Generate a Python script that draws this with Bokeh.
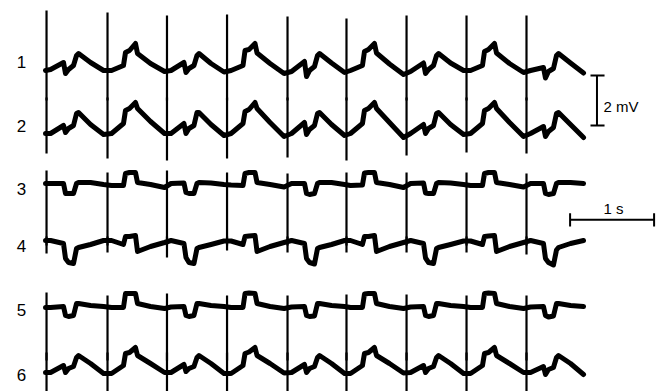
from bokeh.plotting import figure
from bokeh.models import Range1d
from bokeh.embed import file_html
from bokeh.resources import INLINE
from bokeh.core.properties import value

# ---- data (time in ms, amplitude in mV relative to each lead's baseline) ----
t_ms = [0,
        60, 214, 238, 274, 333, 369, 393, 536, 691,
        786, 928, 952, 1000, 1071, 1095, 1250, 1417,
        1494, 1648, 1672, 1708, 1767, 1803, 1827, 1970, 2125,
        2209, 2351, 2375, 2423, 2494, 2518, 2673, 2840,
        2929, 3083, 3107, 3143, 3202, 3238, 3262, 3405, 3560,
        3631, 3773, 3797, 3845, 3916, 3940, 4095, 4262,
        4346, 4500, 4524, 4560, 4619, 4655, 4679, 4822, 4977,
        5060, 5202, 5226, 5274, 5345, 5369, 5524, 5691,
        5774, 5928, 5952, 5988, 6047, 6083, 6107, 6250, 6405]

lead1 = [0.0,
         0.04, 0.32, -0.12, 0.04, 0.2, 0.6, 0.68, 0.32, 0.0,
         0.0, 0.2, 0.72, 0.8, 1.08, 0.68, 0.28, -0.04,
         0.0, 0.32, -0.08, 0.08, 0.2, 0.6, 0.68, 0.28, -0.06,
         0.0, 0.2, 0.8, 0.84, 1.08, 0.7, 0.28, -0.12,
         -0.04, 0.36, -0.24, 0.0, 0.16, 0.6, 0.68, 0.3, -0.08,
         0.0, 0.2, 0.76, 0.84, 1.08, 0.7, 0.26, -0.16,
         -0.04, 0.3, -0.12, 0.04, 0.2, 0.6, 0.68, 0.3, 0.0,
         0.0, 0.2, 0.76, 0.84, 1.08, 0.7, 0.28, -0.08,
         0.0, 0.12, -0.3, -0.04, 0.08, 0.6, 0.68, 0.3, -0.1]

lead2 = [0.0,
         0.0, 0.32, 0.04, 0.2, 0.32, 0.8, 0.84, 0.36, -0.04,
         0.0, 0.4, 0.92, 1.0, 1.24, 1.0, 0.48, 0.0,
         0.0, 0.4, 0.0, 0.2, 0.32, 0.84, 0.84, 0.36, -0.08,
         0.0, 0.4, 0.88, 0.96, 1.24, 1.0, 0.44, -0.12,
         0.0, 0.44, -0.04, 0.16, 0.32, 0.8, 0.84, 0.36, -0.08,
         0.0, 0.4, 0.92, 1.0, 1.24, 1.0, 0.44, -0.16,
         0.0, 0.36, 0.0, 0.2, 0.32, 0.8, 0.84, 0.36, -0.04,
         0.0, 0.4, 0.92, 1.0, 1.24, 1.0, 0.44, -0.12,
         0.0, 0.28, -0.12, 0.08, 0.24, 0.8, 0.84, 0.36, -0.16]

lead3 = [0.0,
         0.0, 0.0, -0.4, -0.4, -0.4, 0.0, 0.04, 0.04, -0.04,
         -0.08, -0.08, 0.4, 0.44, 0.44, 0.04, -0.04, -0.16,
         0.0, 0.02, -0.36, -0.4, -0.4, 0.0, 0.04, 0.02, -0.04,
         -0.06, -0.08, 0.4, 0.44, 0.44, 0.04, -0.04, -0.14,
         0.0, 0.0, -0.4, -0.44, -0.4, 0.0, 0.04, 0.04, -0.04,
         -0.08, -0.06, 0.42, 0.44, 0.44, 0.04, -0.04, -0.16,
         0.0, 0.02, -0.38, -0.4, -0.4, 0.0, 0.04, 0.02, -0.04,
         -0.08, -0.08, 0.4, 0.44, 0.44, 0.04, -0.04, -0.14,
         0.0, 0.0, -0.4, -0.44, -0.4, 0.0, 0.04, 0.04, 0.0]

lead4 = [0.08,
         0.08, -0.04, -0.64, -0.8, -0.84, -0.24, -0.2, -0.08, 0.08,
         0.08, -0.08, 0.24, 0.24, 0.28, -0.36, -0.16, 0.0,
         0.08, -0.04, -0.6, -0.8, -0.84, -0.24, -0.2, -0.08, 0.06,
         0.06, -0.08, 0.24, 0.26, 0.28, -0.36, -0.16, 0.0,
         0.08, -0.04, -0.64, -0.8, -0.86, -0.24, -0.2, -0.08, 0.08,
         0.08, -0.08, 0.24, 0.24, 0.28, -0.36, -0.16, 0.0,
         0.08, -0.04, -0.62, -0.8, -0.84, -0.24, -0.2, -0.08, 0.06,
         0.06, -0.08, 0.24, 0.26, 0.28, -0.36, -0.16, 0.0,
         0.08, -0.04, -0.64, -0.8, -0.9, -0.3, -0.2, -0.04, 0.08]

lead5 = [-0.08,
         -0.08, -0.04, -0.4, -0.44, -0.4, 0.08, 0.08, 0.0, -0.04,
         -0.08, -0.08, 0.48, 0.48, 0.48, 0.08, -0.04, -0.12,
         -0.06, -0.04, -0.4, -0.44, -0.4, 0.08, 0.08, 0.0, -0.04,
         -0.08, -0.08, 0.48, 0.5, 0.48, 0.08, -0.04, -0.12,
         -0.06, -0.04, -0.4, -0.44, -0.42, 0.08, 0.08, 0.0, -0.04,
         -0.08, -0.08, 0.46, 0.48, 0.48, 0.08, -0.04, -0.12,
         -0.06, -0.04, -0.4, -0.44, -0.4, 0.08, 0.08, 0.0, -0.04,
         -0.08, -0.08, 0.48, 0.5, 0.48, 0.08, -0.04, -0.12,
         -0.06, -0.04, -0.4, -0.46, -0.42, 0.08, 0.08, 0.0, -0.04]

lead6 = [-0.08,
         -0.08, 0.2, -0.08, 0.08, 0.16, 0.52, 0.6, 0.28, -0.12,
         -0.12, 0.2, 0.68, 0.72, 0.92, 0.6, 0.28, -0.08,
         -0.08, 0.24, -0.04, 0.08, 0.16, 0.52, 0.6, 0.28, -0.12,
         -0.12, 0.2, 0.68, 0.74, 0.92, 0.6, 0.28, -0.1,
         -0.08, 0.24, -0.08, 0.08, 0.16, 0.52, 0.6, 0.28, -0.12,
         -0.12, 0.2, 0.68, 0.72, 0.92, 0.6, 0.28, -0.1,
         -0.08, 0.2, -0.08, 0.08, 0.16, 0.52, 0.6, 0.28, -0.12,
         -0.12, 0.2, 0.68, 0.72, 0.92, 0.6, 0.28, -0.08,
         -0.08, 0.16, -0.16, 0.04, 0.12, 0.52, 0.6, 0.28, -0.16]

spike_ms = [12, 738, 1446, 2161, 2881, 3583, 4298, 5012, 5726]

spike_top = [
    [2.4, 2.32, 2.2, 2.24, 2.16, 2.08, 2.2, 2.2, 2.2],
    [1.44, 1.44, 1.44, 1.44, 1.44, 1.44, 1.44, 1.44, 1.44],
    [0.52, 0.44, 0.52, 0.44, 0.4, 0.44, 0.44, 0.44, 0.4],
    [0.24, 0.24, 0.24, 0.24, 0.24, 0.24, 0.24, 0.24, 0.24],
    [0.52, 0.4, 0.48, 0.4, 0.4, 0.44, 0.44, 0.4, 0.4],
    [0.72, 0.72, 0.72, 0.72, 0.72, 0.72, 0.72, 0.72, 0.72],
]
spike_bottom = [
    [-1.2, -1.2, -1.2, -1.2, -1.2, -1.2, -1.2, -1.2, -1.2],
    [-0.8, -1.0, -1.08, -1.0, -0.96, -1.08, -0.88, -0.76, -0.8],
    [-2.48, -2.48, -2.48, -2.48, -2.48, -2.48, -2.48, -2.48, -2.48],
    [-0.44, -0.4, -0.6, -0.32, -0.4, -0.4, -0.4, -0.4, -0.48],
    [-2.2, -2.2, -2.2, -2.2, -2.2, -2.2, -2.2, -2.2, -2.2],
    [-1.2, -1.2, -1.2, -1.2, -1.2, -1.2, -1.2, -1.2, -1.2],
]

lead_names = ["1", "2", "3", "4", "5", "6"]
leads = [lead1, lead2, lead3, lead4, lead5, lead6]

# ---- layout (vertical placement of leads, in mV) ----
lead_offset = [0.0, -2.52, -4.52, -6.88, -9.4, -12.0]
label_y = [0.36, -2.2, -4.72, -7.0, -9.56, -12.16]
label_x = -286

FONT = value("Liberation Sans")

p = figure(width=663, height=391, output_backend="svg", toolbar_location=None,
           x_range=Range1d(-536, 7357), y_range=Range1d(-12.84, 2.8),
           min_border=0, background_fill_color="white", border_fill_color="white")
p.axis.visible = False
p.grid.visible = False
p.outline_line_color = None

for lead, off, tops, bots in zip(leads, lead_offset, spike_top, spike_bottom):
    assert len(lead) == len(t_ms)
    p.line(t_ms, [v + off for v in lead], line_width=5, line_color="black",
           line_join="round", line_cap="round")
    p.segment(x0=spike_ms, x1=spike_ms,
              y0=[v + off for v in tops], y1=[v + off for v in bots],
              line_width=2.2, line_color="black")

p.text(x=[label_x] * 6, y=label_y, text=lead_names, text_font=FONT,
       text_font_size="17px", text_align="center", text_baseline="middle",
       text_color="black")

# 2 mV scale bar
mv_x = 6565
mv_y0, mv_y1 = -0.2, -2.2
p.segment(x0=[mv_x, 6488, 6488], x1=[mv_x, 6655, 6655],
          y0=[mv_y0, mv_y0, mv_y1], y1=[mv_y1, mv_y0, mv_y1],
          line_width=2, line_color="black")
p.text(x=[6643], y=[-1.42], text=["2 mV"], text_font=FONT, text_font_size="15px",
       text_align="left", text_baseline="middle", text_color="black")

# 1 s scale bar
s_x0, s_x1 = 6245, 7245
s_y = -5.97
p.segment(x0=[s_x0, s_x0, s_x1], x1=[s_x1, s_x0, s_x1],
          y0=[s_y, -5.71, -5.71], y1=[s_y, -6.24, -6.24],
          line_width=2, line_color="black")
p.text(x=[6762], y=[-5.52], text=["1 s"], text_font=FONT, text_font_size="15px",
       text_align="center", text_baseline="middle", text_color="black")

open("out.html", "w").write(file_html(p, INLINE))
